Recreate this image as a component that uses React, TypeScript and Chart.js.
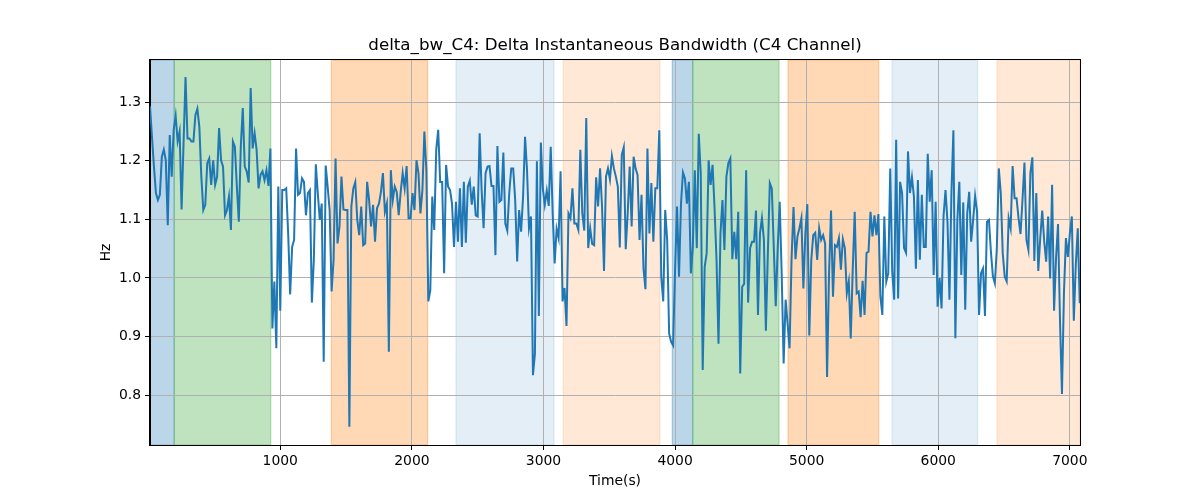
import React, { useEffect, useRef } from "react";
import { Chart, registerables } from "chart.js";

Chart.register(...registerables);

const chartTitle = "delta_bw_C4: Delta Instantaneous Bandwidth (C4 Channel)";
const xLabel = "Time(s)";
const yLabel = "Hz";

// samples are evenly spaced in time
const sampleStart = 10;
const sampleStep = 15.0;

const bandwidth = [
  1.293, 1.241, 1.19, 1.145, 1.133, 1.142, 1.207, 1.219, 1.201, 1.09, 1.244, 1.173, 1.253, 1.277, 1.233, 1.25,
  1.117, 1.23, 1.343, 1.238, 1.238, 1.233, 1.233, 1.278, 1.289, 1.258, 1.173, 1.116, 1.125, 1.196, 1.204, 1.159,
  1.201, 1.159, 1.173, 1.256, 1.201, 1.19, 1.107, 1.116, 1.139, 1.082, 1.233, 1.224, 1.156, 1.096, 1.224, 1.29,
  1.19, 1.182, 1.163, 1.324, 1.221, 1.247, 1.219, 1.153, 1.176, 1.182, 1.167, 1.184, 1.157, 1.221, 0.914, 0.994,
  0.88, 1.156, 0.944, 1.15, 1.15, 1.153, 1.076, 0.972, 1.053, 1.065, 1.221, 1.142, 1.145, 1.17, 1.164, 1.107,
  1.145, 1.15, 0.958, 1.031, 1.194, 1.145, 1.099, 1.127, 0.857, 1.192, 1.156, 1.116, 0.977, 1.031, 1.204, 1.059,
  1.088,
  1.173, 1.117, 1.116, 1.116, 0.746, 1.122, 1.153, 1.164, 1.099, 1.073, 1.122, 1.056, 1.059, 1.164, 1.133, 1.088,
  1.125, 1.062, 1.119, 1.127, 1.147, 1.179, 1.113, 1.127, 0.874, 1.184, 1.133, 1.156, 1.147, 1.107, 1.147, 1.179,
  1.153, 1.191, 1.102, 1.102, 1.145, 1.116, 1.201, 1.179, 1.11, 1.15, 1.25, 1.184, 0.96, 0.979, 1.139, 1.082,
  1.219,
  1.253, 1.164, 1.164, 1.008, 1.193, 1.156, 1.15, 1.127, 1.053, 1.13, 1.062, 1.153, 1.053, 1.164, 1.06, 1.156,
  1.166, 1.125, 1.156, 1.107, 1.105, 1.247, 1.15, 1.085, 1.179, 1.19, 1.191, 1.157, 1.157, 1.039, 1.225, 1.13,
  1.133, 1.214, 1.093, 1.081, 1.145, 1.187, 1.187, 1.133, 1.028, 1.116, 1.079, 1.139, 1.241, 1.184, 1.085, 1.105,
  0.834, 0.871, 1.199, 0.935, 1.231, 1.153, 1.125, 1.149, 1.123, 1.224, 1.11, 1.025, 1.084, 1.068, 1.182, 0.96,
  0.983, 0.918, 1.11, 1.102, 1.153, 1.093, 1.093, 1.082, 1.219, 1.11, 1.081, 1.273, 1.051, 1.085, 1.058, 1.056,
  1.172, 1.122, 1.187, 1.122, 1.012, 1.173, 1.187, 1.168, 1.208, 1.187, 1.173, 1.156, 1.052, 1.21, 1.223, 1.049,
  1.11,
  1.19, 1.088, 1.207, 1.187, 1.176, 1.065, 1.142, 1.016, 0.981, 1.221, 1.076, 1.162, 1.062, 1.153, 1.153, 1.252,
  1.002, 0.96, 1.116, 1.065, 0.905, 0.891, 0.885, 1.014, 1.122, 1.002, 1.127, 1.18, 1.17, 1.127, 1.164, 1.008,
  1.053, 1.184, 1.051, 1.246, 1.179, 0.843, 1.019, 1.042, 1.201, 1.159, 1.193, 1.119, 1.031, 0.888, 1.076, 1.133,
  1.048,
  1.173, 1.196, 1.204, 1.032, 1.079, 1.032, 1.113, 0.837, 0.985, 0.99, 1.184, 0.958, 1.051, 1.062, 1.062, 1.115,
  0.937, 1.076, 1.102, 1.065, 0.91, 1.042, 1.162, 1.153, 1.053, 0.952, 1.051, 1.13, 1.008, 0.854, 0.963, 0.922,
  0.88, 1.031, 1.121, 1.032, 1.071, 1.085, 1.102, 0.982, 1.076, 1.126, 0.902, 1.031, 1.073, 1.077, 1.031, 1.085,
  1.065,
  1.073, 1.059, 0.831, 1.008, 1.115, 0.968, 1.056, 1.053, 1.068, 1.014, 1.066, 1.051, 0.974, 0.994, 0.897, 1.014,
  1.113, 0.974, 0.977, 0.933, 0.995, 0.937, 1.043, 1.045, 1.113, 1.071, 1.107, 1.073, 1.109, 0.969, 0.937, 1.105,
  0.994, 1.008, 1.187, 1.011, 0.963, 1.236, 0.965, 1.164, 1.145, 1.051, 1.043, 1.216, 1.145, 1.172,
  1.139, 1.016, 1.167, 1.031, 1.142, 1.053, 1.053, 1.212, 1.13, 1.184, 1.005, 1.13, 0.951, 1.0, 0.948, 1.105,
  1.15, 1.096, 0.963, 1.145, 1.252, 0.897, 1.099, 1.164, 1.005, 1.129, 0.946, 1.11, 1.147, 1.062, 1.099, 1.14,
  1.113, 0.937, 1.008, 1.016, 0.935, 1.096, 1.099, 1.045, 1.003, 0.991, 1.051, 1.187, 1.145, 1.042, 1.002, 0.994,
  1.102,
  1.085, 1.191, 1.136, 1.136, 1.102, 1.075, 1.133, 1.197, 1.065, 1.048, 1.179, 1.206, 1.029, 1.145, 1.012, 1.068,
  1.115, 1.062, 1.028, 1.105, 0.999, 1.159, 0.944, 1.034, 1.092, 0.928, 0.802, 0.974, 1.068, 1.036, 1.076, 1.105,
  0.927, 1.022, 1.085, 0.957,
];

// shaded segments [start, end] in seconds, and which kind each one is
const segmentStarts = [10, 194, 1388, 2335, 3150, 3979, 4134, 4858, 5648, 6446];
const segmentEnds = [194, 927, 2120, 3080, 3885, 4134, 4790, 5547, 6299, 7077];
const segmentKinds = ["a", "b", "c", "d", "e", "a", "b", "c", "d", "e"];

const xTicks = [1000, 2000, 3000, 4000, 5000, 6000, 7000];
const yTicks = [0.8, 0.9, 1.0, 1.1, 1.2, 1.3];

const X_MIN = 10;
const X_MAX = 7077;
const Y_MIN = 0.715;
const Y_MAX = 1.372;

const kindColor: Record<string, string> = {
  a: "rgba(31,119,180,0.3)",
  b: "rgba(44,160,44,0.3)",
  c: "rgba(255,127,14,0.3)",
  d: "rgba(31,119,180,0.12)",
  e: "rgba(255,127,14,0.17)",
};

const FONT = "'DejaVu Sans', sans-serif";

const spansPlugin = {
  id: "spans",
  beforeDraw(chart: any) {
    const { ctx, chartArea, scales } = chart;
    ctx.save();
    ctx.beginPath();
    ctx.rect(chartArea.left, chartArea.top, chartArea.right - chartArea.left, chartArea.bottom - chartArea.top);
    ctx.clip();
    segmentStarts.forEach((s, i) => {
      const x0 = scales.x.getPixelForValue(s);
      const x1 = scales.x.getPixelForValue(segmentEnds[i]);
      const col = kindColor[segmentKinds[i]];
      ctx.fillStyle = col;
      ctx.fillRect(x0, chartArea.top, x1 - x0, chartArea.bottom - chartArea.top);
      ctx.strokeStyle = col;
      ctx.lineWidth = 1.3;
      ctx.strokeRect(x0, chartArea.top, x1 - x0, chartArea.bottom - chartArea.top);
    });
    ctx.restore();
  },
};

const framePlugin = {
  id: "frame",
  afterDraw(chart: any) {
    const { ctx, chartArea } = chart;
    ctx.save();
    ctx.strokeStyle = "#000";
    ctx.lineWidth = 1;
    ctx.strokeRect(
      Math.round(chartArea.left) - 0.5,
      Math.round(chartArea.top) - 0.5,
      Math.round(chartArea.right - chartArea.left) + 1,
      Math.round(chartArea.bottom - chartArea.top) + 1
    );
    ctx.fillStyle = "#000";
    ctx.textAlign = "center";
    ctx.textBaseline = "middle";
    ctx.font = `16.7px ${FONT}`;
    ctx.fillText(chartTitle, (chartArea.left + chartArea.right) / 2, 46);
    ctx.font = `13.9px ${FONT}`;
    ctx.fillText(xLabel, (chartArea.left + chartArea.right) / 2, 481);
    ctx.translate(106, (chartArea.top + chartArea.bottom) / 2);
    ctx.rotate(-Math.PI / 2);
    ctx.fillText(yLabel, 0, 0);
    ctx.restore();
  },
};

const BandwidthChart = () => {
  const chartRef = useRef<HTMLCanvasElement | null>(null);

  useEffect(() => {
    document.body.style.margin = "0";
    if (!chartRef.current) return;
    const ctx = chartRef.current.getContext("2d");
    if (!ctx) return;

    const points = bandwidth.map((v, i) => ({ x: sampleStart + i * sampleStep, y: v }));

    const myChart = new Chart(ctx, {
      type: "line",
      data: {
        datasets: [
          {
            data: points,
            borderColor: "#1f77b4",
            borderWidth: 2,
            pointRadius: 0,
            tension: 0,
            fill: false,
          },
        ],
      },
      options: {
        responsive: false,
        animation: false,
        layout: { padding: { left: 0, right: 120, top: 60, bottom: 0 } },
        plugins: {
          legend: { display: false },
          tooltip: { enabled: false },
        },
        scales: {
          x: {
            type: "linear",
            min: X_MIN,
            max: X_MAX,
            afterFit: (s: any) => {
              s.height = 55;
            },
            afterBuildTicks: (s: any) => {
              s.ticks = xTicks.map((v) => ({ value: v }));
            },
            ticks: {
              color: "#000",
              font: { family: FONT, size: 13.9 },
              padding: 3,
              maxRotation: 0,
              callback: (v: any) => String(v),
            },
            grid: { color: "#b0b0b0", lineWidth: 1, tickColor: "#000", tickLength: 5 },
            border: { color: "#000", width: 1 },
          },
          y: {
            type: "linear",
            min: Y_MIN,
            max: Y_MAX,
            afterFit: (s: any) => {
              s.width = 150;
            },
            afterBuildTicks: (s: any) => {
              s.ticks = yTicks.map((v) => ({ value: v }));
            },
            ticks: {
              color: "#000",
              font: { family: FONT, size: 13.9 },
              padding: 4,
              callback: (v: any) => Number(v).toFixed(1),
            },
            grid: { color: "#b0b0b0", lineWidth: 1, tickColor: "#000", tickLength: 5 },
            border: { color: "#000", width: 1 },
          },
        },
      },
      plugins: [spansPlugin, framePlugin],
    });

    return () => {
      myChart.destroy();
    };
  }, []);

  return (
    <div style={{ width: 1200, height: 500 }}>
      <canvas ref={chartRef} width={1200} height={500} style={{ display: "block" }}></canvas>
    </div>
  );
};

export default function App() {
  return <BandwidthChart />;
}
